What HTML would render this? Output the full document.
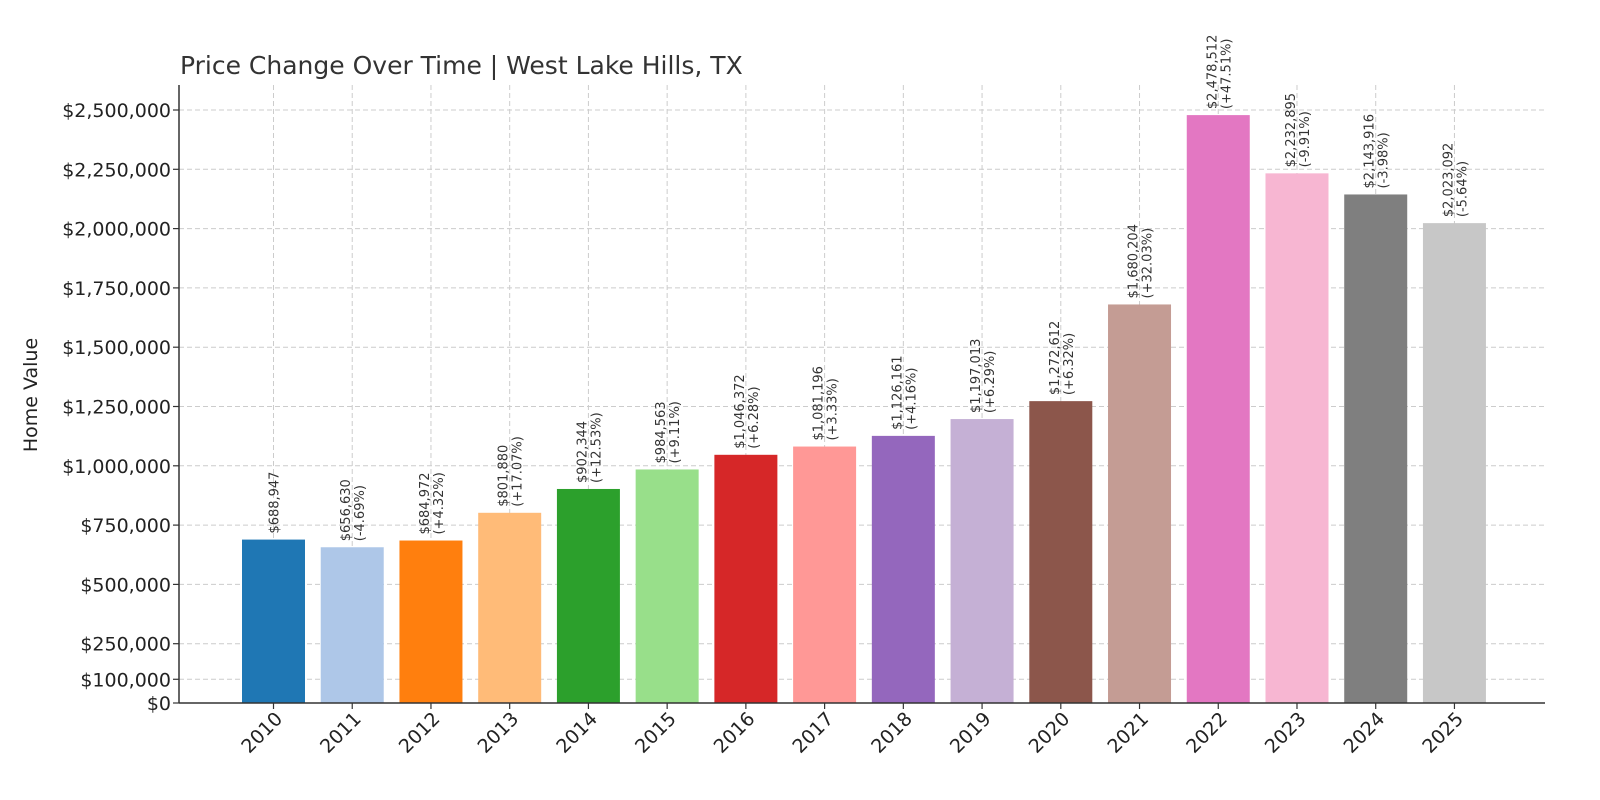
<!DOCTYPE html>
<html><head><meta charset="utf-8"><style>
body{margin:0;background:#fff;}
svg{display:block;font-family:"DejaVu Sans","Liberation Sans",sans-serif;}
</style></head><body>
<svg id="chart" width="1600" height="800" viewBox="0 0 1600 800">
<text x="180" y="74" font-size="25" fill="#333">Price Change Over Time | West Lake Hills, TX</text>
<text transform="translate(37,395) rotate(-90)" text-anchor="middle" font-size="19" fill="#222">Home Value</text>
<g id="grid"></g><g id="bars"></g><g id="labels"></g><g id="axes"></g>
</svg>
<script>
const years=["2010","2011","2012","2013","2014","2015","2016","2017","2018","2019","2020","2021","2022","2023","2024","2025"];
const values=[688947,656630,684972,801880,902344,984563,1046372,1081196,1126161,1197013,1272612,1680204,2478512,2232895,2143916,2023092];
const pctLabels=["","-4.69%","+4.32%","+17.07%","+12.53%","+9.11%","+6.28%","+3.33%","+4.16%","+6.29%","+6.32%","+32.03%","+47.51%","-9.91%","-3.98%","-5.64%"];
const yTicks=[0,100000,250000,500000,750000,1000000,1250000,1500000,1750000,2000000,2250000,2500000];
const colors=["#1f77b4","#aec7e8","#ff7f0e","#ffbb78","#2ca02c","#98df8a","#d62728","#ff9896","#9467bd","#c5b0d5","#8c564b","#c49c94","#e377c2","#f7b6d2","#7f7f7f","#c7c7c7"];
const NS="http://www.w3.org/2000/svg";
const x0=179,x1=1545,yZero=703,yTop=85;
const yScale=v=>yZero-v*(593/2500000);
const xCenter=i=>273.5+i*78.73;
const bw=63;
const fmt=v=>"$"+v.toLocaleString("en-US");
function mk(t,a,p){const e=document.createElementNS(NS,t);for(const k in a)e.setAttribute(k,a[k]);p.appendChild(e);return e;}
const grid=document.getElementById("grid"),bars=document.getElementById("bars"),labels=document.getElementById("labels"),axes=document.getElementById("axes");
yTicks.forEach(v=>{const y=yScale(v);
 if(v>0){const g=mk("line",{x1:x0,x2:x1,y1:y,y2:y,stroke:"#ccc","stroke-dasharray":"5,3","stroke-width":1},grid);
 
 }
 const t=mk("line",{x1:x0-6,x2:x0,y1:y,y2:y,stroke:"#333","stroke-width":1.2},axes);
 
 
 const l=mk("text",{x:x0-8,y:y+7,"text-anchor":"end","font-size":"19",fill:"#222"},axes);
 
 
 l.textContent=fmt(v);});
years.forEach((yr,i)=>{const cx=xCenter(i);
 const g=mk("line",{x1:cx,x2:cx,y1:yTop,y2:yZero,stroke:"#ccc","stroke-dasharray":"5,3","stroke-width":1},grid);
 
 
 const yb=yScale(values[i]);
 const r=mk("rect",{x:cx-bw/2,y:yb,width:bw,height:yZero-yb,fill:colors[i]},bars);
 
 
 const hasP=pctLabels[i]!=="";
 const t1=mk("text",{transform:`translate(${hasP?cx-2:cx+5},${yb-6}) rotate(-90)`,"font-size":"13",fill:"#333"},labels);
 
 
 t1.textContent=fmt(values[i]);
 if(hasP){const t2=mk("text",{transform:`translate(${cx+12},${yb-6}) rotate(-90)`,"font-size":"13",fill:"#333"},labels);
 
 
 t2.textContent="("+pctLabels[i]+")";}
 const tk=mk("line",{x1:cx,x2:cx,y1:yZero,y2:yZero+6,stroke:"#333","stroke-width":1.2},axes);
 
 
 const xl=mk("text",{transform:`translate(${cx+10},${yZero+17}) rotate(-45)`,"text-anchor":"end","font-size":"19",fill:"#222"},axes);
 
 
 xl.textContent=yr;});
const ls=mk("line",{x1:x0,x2:x0,y1:yTop,y2:yZero,stroke:"#333","stroke-width":1.5},axes);


const bs=mk("line",{x1:x0,x2:x1,y1:yZero,y2:yZero,stroke:"#333","stroke-width":1.5},axes);


</script>
</body></html>
